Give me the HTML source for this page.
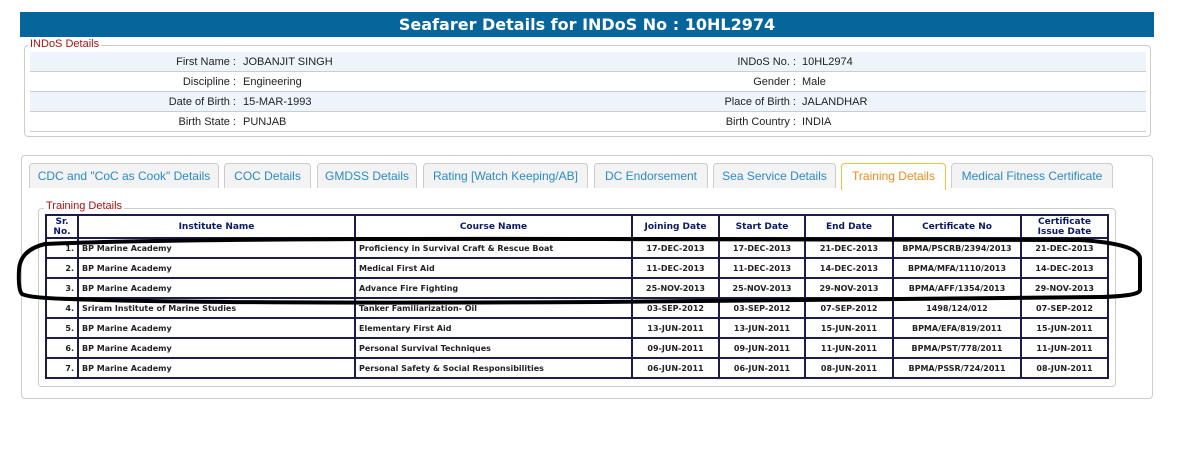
<!DOCTYPE html>
<html><head><meta charset="utf-8"><style>
body{margin:0;width:1199px;height:460px;background:#fff;position:relative;font-family:"Liberation Sans",Arial,sans-serif;overflow:hidden}
.abs{position:absolute}
.hdr{left:20px;top:12px;width:1134px;height:25px;background:#06659a;color:#fff;font:bold 16px "DejaVu Sans",sans-serif;text-align:center;line-height:25px}
.fs{border:1px solid #ccc;border-radius:4px}
.leg{background:#fff;color:#a11;font-size:11px;padding:0 2px}
.row{left:30px;width:1116px;height:19px;border-bottom:1px solid #ccc;font-size:11px;line-height:20px;color:#222}
.row.a{background:#eef4fb}
.row span{position:absolute;white-space:nowrap}
.l1{right:910px;text-align:right}.v1{left:213px}
.l2{right:350px}.v2{left:772px}
.tab{top:163px;height:25px;border:1px solid #ccc;border-bottom:none;border-radius:4px 4px 0 0;background:#f3f3f3;color:#2b8ac4;font-size:12px;text-align:center;line-height:25px;box-sizing:border-box}
table{position:absolute;left:45px;top:214px;width:1062px;table-layout:fixed;border-collapse:collapse;border:2px solid #1c1c4a;font:bold 8px "DejaVu Sans",sans-serif;color:#222}
td,th{border:2px solid #1c1c4a;height:18px;padding:0 3px;text-align:center;white-space:nowrap;overflow:hidden}
th{color:#0a1a66;font-size:9px;height:21px;line-height:10px}
td.l{text-align:left}
</style></head><body>
<div class="abs hdr">Seafarer Details for INDoS No : 10HL2974</div>
<div class="abs fs" style="left:24px;top:45px;width:1125px;height:90px"></div>
<div class="abs leg" style="left:28px;top:38px">INDoS Details</div>
<div class="abs row a" style="top:52px"><span class="l1">First Name :</span><span class="v1">JOBANJIT SINGH</span><span class="l2">INDoS No. :</span><span class="v2">10HL2974</span></div>
<div class="abs row" style="top:72px"><span class="l1">Discipline :</span><span class="v1">Engineering</span><span class="l2">Gender :</span><span class="v2">Male</span></div>
<div class="abs row a" style="top:92px"><span class="l1">Date of Birth :</span><span class="v1">15-MAR-1993</span><span class="l2">Place of Birth :</span><span class="v2">JALANDHAR</span></div>
<div class="abs row" style="top:112px"><span class="l1">Birth State :</span><span class="v1">PUNJAB</span><span class="l2">Birth Country :</span><span class="v2">INDIA</span></div>

<div class="abs fs" style="left:21px;top:155px;width:1130px;height:242px"></div>
<div class="abs tab" style="left:29px;width:190px">CDC and "CoC as Cook" Details</div>
<div class="abs tab" style="left:224px;width:87px">COC Details</div>
<div class="abs tab" style="left:317px;width:100px">GMDSS Details</div>
<div class="abs tab" style="left:423px;width:165px">Rating [Watch Keeping/AB]</div>
<div class="abs tab" style="left:594px;width:114px">DC Endorsement</div>
<div class="abs tab" style="left:713px;width:123px">Sea Service Details</div>
<div class="abs tab" style="left:841px;width:105px;background:#fff;border-color:#f0c040;color:#f08a1c;height:27px">Training Details</div>
<div class="abs tab" style="left:951px;width:162px">Medical Fitness Certificate</div>
<div class="abs fs" style="left:38px;top:208px;width:1076px;height:177px"></div>
<div class="abs leg" style="left:44px;top:200px">Training Details</div>
<table>
<colgroup><col style="width:32px"><col style="width:277px"><col style="width:277px"><col style="width:87px"><col style="width:86px"><col style="width:88px"><col style="width:128px"><col style="width:87px"></colgroup>
<tr><th>Sr.<br>No.</th><th>Institute Name</th><th>Course Name</th><th>Joining Date</th><th>Start Date</th><th>End Date</th><th>Certificate No</th><th>Certificate<br>Issue Date</th></tr>
<tr><td style="text-align:right">1.</td><td class="l">BP Marine Academy</td><td class="l">Proficiency in Survival Craft &amp; Rescue Boat</td><td>17-DEC-2013</td><td>17-DEC-2013</td><td>21-DEC-2013</td><td>BPMA/PSCRB/2394/2013</td><td>21-DEC-2013</td></tr>
<tr><td style="text-align:right">2.</td><td class="l">BP Marine Academy</td><td class="l">Medical First Aid</td><td>11-DEC-2013</td><td>11-DEC-2013</td><td>14-DEC-2013</td><td>BPMA/MFA/1110/2013</td><td>14-DEC-2013</td></tr>
<tr><td style="text-align:right">3.</td><td class="l">BP Marine Academy</td><td class="l">Advance Fire Fighting</td><td>25-NOV-2013</td><td>25-NOV-2013</td><td>29-NOV-2013</td><td>BPMA/AFF/1354/2013</td><td>29-NOV-2013</td></tr>
<tr><td style="text-align:right">4.</td><td class="l">Sriram Institute of Marine Studies</td><td class="l">Tanker Familiarization- Oil</td><td>03-SEP-2012</td><td>03-SEP-2012</td><td>07-SEP-2012</td><td>1498/124/012</td><td>07-SEP-2012</td></tr>
<tr><td style="text-align:right">5.</td><td class="l">BP Marine Academy</td><td class="l">Elementary First Aid</td><td>13-JUN-2011</td><td>13-JUN-2011</td><td>15-JUN-2011</td><td>BPMA/EFA/819/2011</td><td>15-JUN-2011</td></tr>
<tr><td style="text-align:right">6.</td><td class="l">BP Marine Academy</td><td class="l">Personal Survival Techniques</td><td>09-JUN-2011</td><td>09-JUN-2011</td><td>11-JUN-2011</td><td>BPMA/PST/778/2011</td><td>11-JUN-2011</td></tr>
<tr><td style="text-align:right">7.</td><td class="l">BP Marine Academy</td><td class="l">Personal Safety &amp; Social Responsibilities</td><td>06-JUN-2011</td><td>06-JUN-2011</td><td>08-JUN-2011</td><td>BPMA/PSSR/724/2011</td><td>08-JUN-2011</td></tr>
</table>
<svg class="abs" style="left:0;top:0" width="1199" height="460">
<path d="M45,244 Q180,238 600,239 L1080,240 Q1142,244 1140,260 L1140,290 Q1140,296 1100,297 L600,302 Q200,304 70,299 Q30,298 22,294 Q18,290 19,270 Q20,250 45,244 Z" fill="none" stroke="#000" stroke-width="4"/>
</svg>
</body></html>
